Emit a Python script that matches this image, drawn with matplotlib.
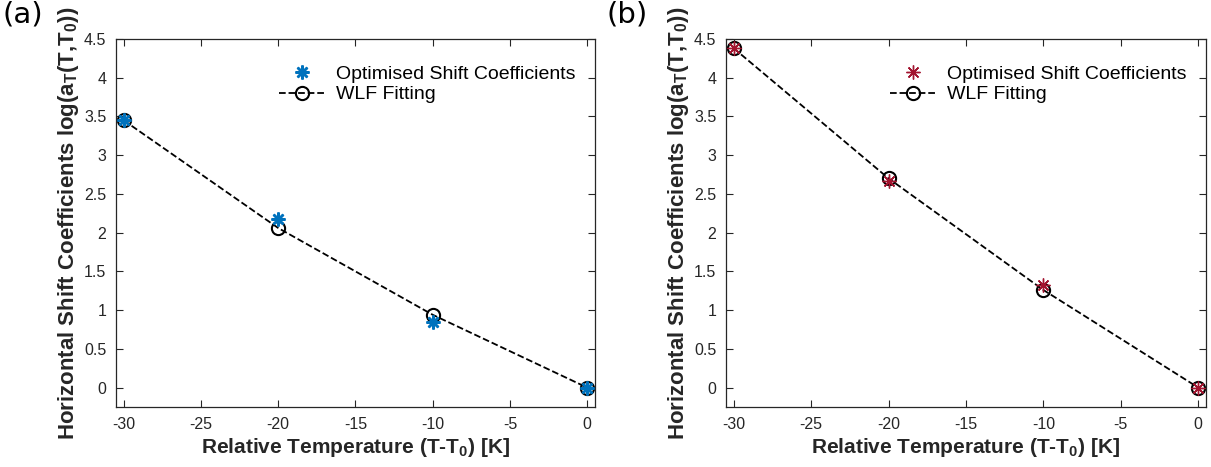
import matplotlib
matplotlib.use("Agg")
import matplotlib.pyplot as plt

plt.rcParams['font.family'] = ['Liberation Sans', 'DejaVu Sans']
plt.rcParams['mathtext.fontset'] = 'custom'
plt.rcParams['mathtext.rm'] = 'Liberation Sans'
plt.rcParams['mathtext.bf'] = 'Liberation Sans:bold'

# relative temperature steps (T - T0)
temps = [-30, -20, -10, 0]

# panel (a)
shift_a = [3.45, 2.18, 0.85, 0.0]
wlf_a = [3.45, 2.06, 0.94, 0.0]

# panel (b)
shift_b = [4.38, 2.67, 1.33, 0.0]
wlf_b = [4.38, 2.70, 1.26, 0.0]

xticks = [-30, -25, -20, -15, -10, -5, 0]
yticks = [0, 0.5, 1, 1.5, 2, 2.5, 3, 3.5, 4, 4.5]
yticklabels = ['0', '0.5', '1', '1.5', '2', '2.5', '3', '3.5', '4', '4.5']

axis_grey = '#262626'
asterisk = (8, 2, 0)

fig = plt.figure(figsize=(12.11, 4.67), dpi=100)
ax_a = fig.add_axes([0.0958, 0.1285, 0.3955, 0.788])
ax_b = fig.add_axes([0.5995, 0.1285, 0.3964, 0.788])


def draw_panel(ax, shift, wlf, color, star_lw, tag, tag_x):
    ax.plot(temps, wlf, '--', color='black', lw=1.3, marker='o', ms=9.5,
            mfc='none', mec='black', mew=1.5, label='WLF Fitting', zorder=2)
    ax.plot(temps, shift, ls='none', marker=asterisk, ms=10, mec=color,
            mew=star_lw, color=color, label='Optimised Shift Coefficients', zorder=3)

    ax.set_xlim(-30.5, 0.5)
    ax.set_ylim(-0.25, 4.5)
    ax.set_xticks(xticks)
    ax.set_xticklabels([str(t) for t in xticks])
    ax.set_yticks(yticks)
    ax.set_yticklabels(yticklabels)
    ax.tick_params(direction='in', length=5, width=0.8, colors=axis_grey,
                   labelsize=11.5, top=True, right=True, pad=7)
    for sp in ax.spines.values():
        sp.set_color(axis_grey)
        sp.set_linewidth(0.9)

    ax.set_xlabel(r'Relative Temperature (T-T$_\mathbf{0}$) [K]',
                  fontsize=15, fontweight='bold', color=axis_grey, labelpad=3)
    ax.set_ylabel(r'Horizontal Shift Coefficients log(a$_\mathbf{T}$(T,T$_\mathbf{0}$))',
                  fontsize=16, fontweight='bold', color=axis_grey, labelpad=2)

    handles, labels = ax.get_legend_handles_labels()
    ax.legend(handles[::-1], labels[::-1], loc='upper right', frameon=False,
              fontsize=14, handlelength=2.3, handletextpad=0.6,
              labelspacing=0.15, bbox_to_anchor=(0.995, 0.976))

    fig.text(tag_x, 0.998, tag, fontsize=21, family='DejaVu Sans', va='top', ha='left')


draw_panel(ax_a, shift_a, wlf_a, '#0072BD', 1.8, '(a)', 0.002)
draw_panel(ax_b, shift_b, wlf_b, '#A2142F', 1.0, '(b)', 0.501)

fig.savefig('out.png', dpi=100)
